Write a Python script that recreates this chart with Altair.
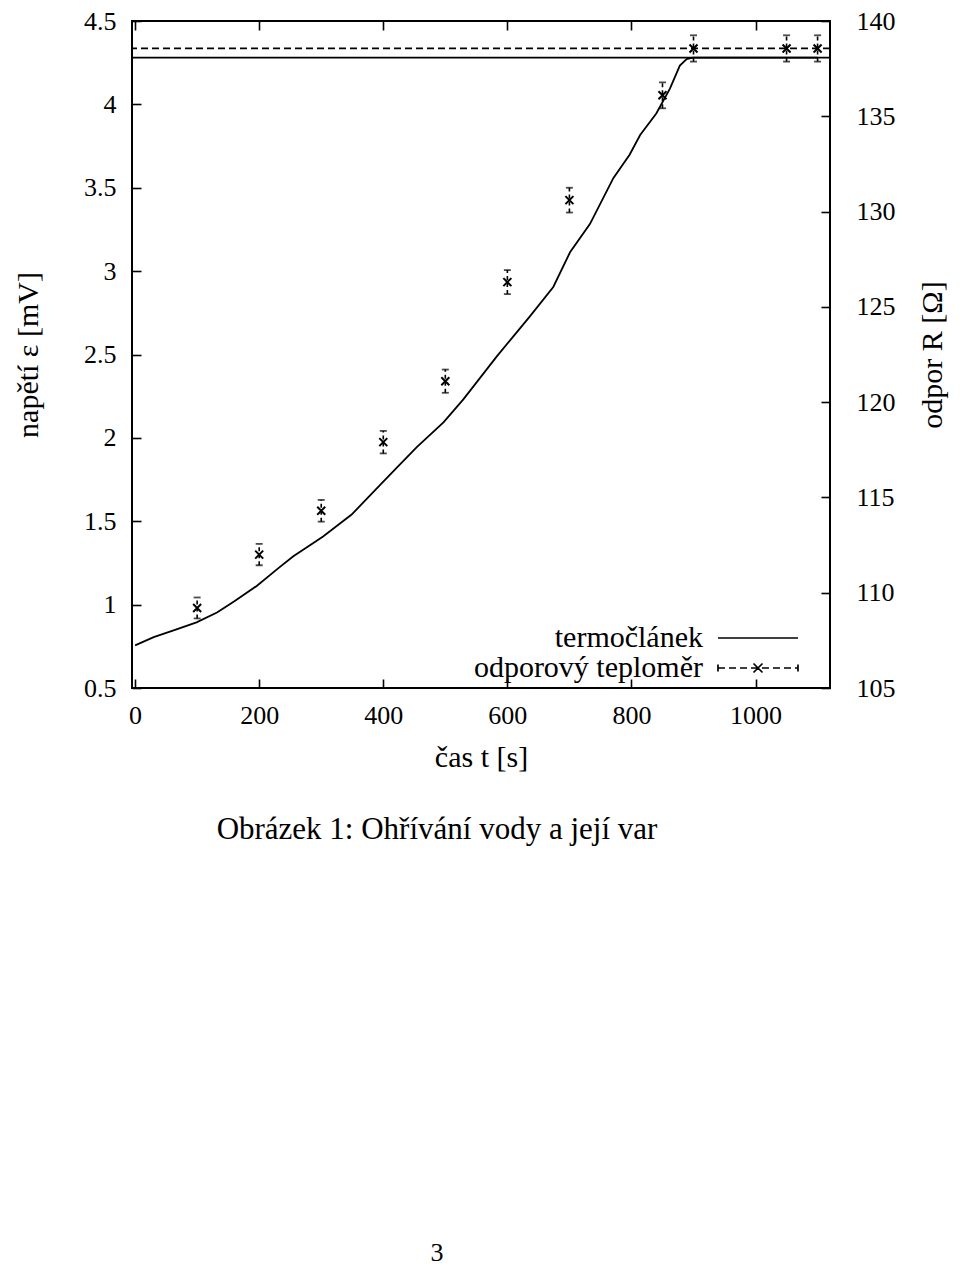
import altair as alt
import pandas as pd

# ---------------- data ----------------
# thermocouple voltage (solid curve)
tc_time = [0, 30, 62, 99, 132, 160, 196, 230, 255, 280, 303, 349, 395, 425, 454,
           497, 529, 556, 583, 610, 636, 674, 701, 733, 771, 797, 814, 840, 862,
           878, 889, 899, 950, 1000, 1050, 1100]
tc_voltage = [0.756, 0.805, 0.845, 0.894, 0.953, 1.02, 1.112, 1.216, 1.290, 1.352,
              1.409, 1.540, 1.718, 1.834, 1.944, 2.093, 2.231, 2.360, 2.489, 2.61,
              2.727, 2.905, 3.113, 3.282, 3.559, 3.698, 3.816, 3.945, 4.094, 4.233,
              4.272, 4.280, 4.28, 4.28, 4.28, 4.28]

# resistance thermometer (points with error bars)
rt_time = [100, 200, 300, 400, 500, 600, 700, 850, 900, 1050, 1100]
rt_resist = [109.2, 112.0, 114.3, 117.9, 121.1, 126.3, 130.6, 136.1, 138.56, 138.56, 138.56]
rt_err = [0.55, 0.56, 0.57, 0.59, 0.61, 0.63, 0.65, 0.68, 0.69, 0.69, 0.69]

# boiling levels (horizontal lines)
boil_voltage = [4.28]
boil_resist = [138.56]

x_ticks = [0, 200, 400, 600, 800, 1000]
left_ticks = [0.5, 1, 1.5, 2, 2.5, 3, 3.5, 4, 4.5]
right_ticks = [105, 110, 115, 120, 125, 130, 135, 140]
series_names = ["termočlánek", "odporový teploměr"]

FONT = "Liberation Serif"
FS = 26      # numbers
FT = 30      # words

tc_df = pd.DataFrame({"t": tc_time, "mV": tc_voltage})
rt_df = pd.DataFrame({"t": rt_time, "R": rt_resist, "err": rt_err})
rt_df["lo"] = rt_df["R"] - rt_df["err"]
rt_df["hi"] = rt_df["R"] + rt_df["err"]
rt_df["series"] = series_names[1]

# ---------------- symbol paths (style) ----------------
X_PATH = "M-1,-1L1,1M-1,1L1,-1"
SOLID_SAMPLE = "M-4,0L4,0"


def dashed_sample():
    parts = []
    x = -4.0
    while x < 4.0:
        x2 = min(x + 0.7, 4.0)
        parts.append(f"M{x:.2f},0L{x2:.2f},0")
        x += 1.1
    parts.append("M-0.45,-0.45L0.45,0.45M-0.45,0.45L0.45,-0.45")
    parts.append("M-4,-0.35L-4,0.35M4,-0.35L4,0.35")
    return "".join(parts)


DASH_SAMPLE = dashed_sample()

# ---------------- scales & axes ----------------
x_scale = alt.Scale(domain=[-5, 1120], nice=False, zero=False)
left_scale = alt.Scale(domain=[0.5, 4.5], nice=False, zero=False)
right_scale = alt.Scale(domain=[105, 140], nice=False, zero=False)

TICK = 9

x_label_axis = alt.Axis(orient="bottom", values=x_ticks, format="d", ticks=False,
                        domain=False, grid=False, labelPadding=14,
                        title="čas t [s]", titlePadding=14, titleFontSize=FT)
x_bottom_ticks = alt.Axis(orient="bottom", values=x_ticks, labels=False, domain=False,
                          grid=False, tickSize=TICK, offset=-TICK, title=None)
x_top_ticks = alt.Axis(orient="top", values=x_ticks, labels=False, domain=False,
                       grid=False, tickSize=TICK, offset=-TICK, title=None)

left_label_axis = alt.Axis(orient="left", values=left_ticks, format="~g", ticks=False,
                           domain=False, grid=False, labelPadding=16,
                           title="napětí ε [mV]", titlePadding=40, titleFontSize=FT)
left_tick_axis = alt.Axis(orient="left", values=left_ticks, labels=False, domain=False,
                          grid=False, tickSize=TICK, offset=-TICK, title=None)

right_label_axis = alt.Axis(orient="right", values=right_ticks, format="d", ticks=False,
                            domain=False, grid=False, labelPadding=26,
                            title="odpor R [Ω]", titlePadding=52, titleAngle=270,
                            titleFontSize=FT)
right_tick_axis = alt.Axis(orient="right", values=right_ticks, labels=False, domain=False,
                           grid=False, tickSize=TICK, offset=-TICK, title=None)

# ---------------- left (voltage) layers ----------------
line = alt.Chart(tc_df).mark_line(color="black", strokeWidth=1.8).encode(
    x=alt.X("t:Q", scale=x_scale, axis=x_label_axis),
    y=alt.Y("mV:Q", scale=left_scale, axis=left_label_axis),
)

boil_solid = alt.Chart(pd.DataFrame({"mV": boil_voltage})).mark_rule(
    color="black", strokeWidth=1.8
).encode(y=alt.Y("mV:Q", scale=left_scale, axis=left_tick_axis))

left_group = alt.layer(line, boil_solid).resolve_axis(y="independent", x="independent")

# ---------------- right (resistance) layers ----------------
boil_dash = alt.Chart(pd.DataFrame({"R": boil_resist})).mark_rule(
    color="black", strokeWidth=1.8, strokeDash=[7, 4]
).encode(y=alt.Y("R:Q", scale=right_scale, axis=right_label_axis))

stems = alt.Chart(rt_df).mark_rule(color="black", strokeWidth=1.6, strokeDash=[4, 3]).encode(
    x=alt.X("t:Q", scale=x_scale, axis=x_top_ticks),
    y=alt.Y("lo:Q", scale=right_scale, axis=right_tick_axis),
    y2="hi:Q",
)

caps = alt.Chart(rt_df).transform_fold(["lo", "hi"], as_=["end", "val"]).mark_tick(
    orient="horizontal", color="black", size=7, thickness=1.8
).encode(
    x=alt.X("t:Q", scale=x_scale, axis=None),
    y=alt.Y("val:Q", scale=right_scale, axis=None),
)

pts = alt.Chart(rt_df).mark_point(
    shape=X_PATH, size=64, filled=False, color="black", strokeWidth=2, opacity=1
).encode(
    x=alt.X("t:Q", scale=x_scale, axis=x_bottom_ticks),
    y=alt.Y("R:Q", scale=right_scale, axis=None),
)

legend_layer = alt.Chart(rt_df).transform_filter("false").mark_point(
    filled=False, color="black", strokeWidth=1.7, size=400, opacity=1
).encode(
    x=alt.X("t:Q", scale=x_scale, axis=None),
    y=alt.Y("R:Q", scale=right_scale, axis=None),
    shape=alt.Shape(
        "series:N",
        scale=alt.Scale(domain=series_names, range=[SOLID_SAMPLE, DASH_SAMPLE]),
        legend=alt.Legend(
            orient="none", legendX=543, legendY=602, title=None,
            labelAlign="right", labelOffset={"expr": "-70"}, symbolOffset=68,
            labelFont=FONT, labelFontSize=FT,
            labelColor="black", labelLimit=400,
            symbolSize=400, symbolStrokeWidth=1.7, symbolStrokeColor="black",
            symbolFillColor="transparent", symbolOpacity=1,
            rowPadding=-4, padding=0,
        ),
    ),
)

right_group = alt.layer(boil_dash, stems, caps, pts, legend_layer).resolve_axis(
    y="independent", x="independent"
)

chart = (
    alt.layer(left_group, right_group)
    .resolve_scale(y="independent")
    .resolve_axis(x="independent", y="independent")
    .properties(
        width=698,
        height=667,
        autosize=alt.AutoSizeParams(type="none"),
        padding={"left": 124, "top": 13, "right": 122, "bottom": 583},
        title=alt.TitleParams(
            text="Obrázek 1: Ohřívání vody a její var",
            subtitle="3",
            orient="bottom",
            anchor="middle",
            dx=-44,
            offset=43,
            font=FONT, fontSize=31, fontWeight="normal", color="black",
            subtitleFont=FONT, subtitleFontSize=FS, subtitleColor="black",
            subtitlePadding=394,
        ),
    )
    .configure_axis(
        labelFont=FONT, labelFontSize=FS, labelColor="black",
        titleFont=FONT, titleFontSize=FT, titleFontWeight="normal", titleColor="black",
        tickColor="black", tickWidth=1.6,
    )
    .configure_view(stroke="black", strokeWidth=2)
)

chart.save("out.html", embed_options={"renderer": "svg", "actions": False})
